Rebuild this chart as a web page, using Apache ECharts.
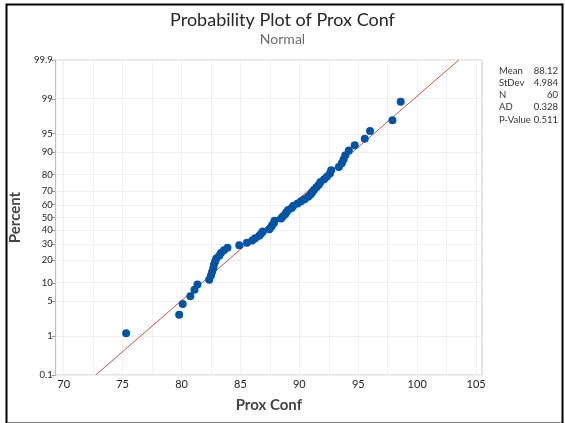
<!DOCTYPE html>
<html>
<head>
<meta charset="utf-8">
<script src="https://cdn.jsdelivr.net/npm/echarts@6/dist/echarts.min.js"></script>
<style>
  html, body { margin: 0; padding: 0; background: #fff; }
  #chart { width: 565px; height: 423px; }
</style>
</head>
<body>
<div id="chart"></div>
<script>
// Prox Conf observations, sorted ascending (N = 60)
const proxConf = [
  75.3, 79.8, 80.1, 80.75, 81.1, 81.35, 82.35, 82.5, 82.6, 82.7,
  82.75, 82.85, 82.95, 83.2, 83.35, 83.6, 83.9, 84.9, 85.55, 86.0,
  86.25, 86.6, 86.75, 86.9, 87.45, 87.6, 87.7, 87.85, 87.9, 88.45,
  88.6, 88.8, 88.9, 89.05, 89.35, 89.5, 89.85, 90.15, 90.45, 90.75,
  90.95, 91.1, 91.25, 91.45, 91.65, 91.8, 92.1, 92.35, 92.6, 92.7,
  93.35, 93.6, 93.75, 93.9, 94.2, 94.7, 95.55, 96.0, 97.9, 98.6
];

// Fitted normal distribution
const fitMean = 88.12;
const fitStDev = 4.984;

// Summary table
const statNames = ['Mean', 'StDev', 'N', 'AD', 'P-Value'];
const statValues = ['88.12', '4.984', '60', '0.328', '0.511'];

// Axis ticks
const percentTicks = [0.1, 1, 5, 10, 20, 30, 40, 50, 60, 70, 80, 90, 95, 99, 99.9];
const xTicks = [70, 75, 80, 85, 90, 95, 100, 105];
const xGrid = [70, 72.5, 75, 77.5, 80, 82.5, 85, 87.5, 90, 92.5, 95, 97.5, 100, 102.5, 105];

// Inverse standard normal CDF (Acklam's rational approximation)
function normInv(p) {
  const a = [-3.969683028665376e+01, 2.209460984245205e+02, -2.759285104469687e+02, 1.383577518672690e+02, -3.066479806614716e+01, 2.506628277459239e+00];
  const b = [-5.447609879822406e+01, 1.615858368580409e+02, -1.556989798598866e+02, 6.680131188771972e+01, -1.328068155288572e+01];
  const c = [-7.784894002430293e-03, -3.223964580411365e-01, -2.400758277161838e+00, -2.549671010229583e+00, 4.374664141464968e+00, 2.938163982698783e+00];
  const d = [7.784695709041462e-03, 3.224671290700398e-01, 2.445134137142996e+00, 3.754408661907416e+00];
  const pl = 0.02425, ph = 1 - pl;
  let q, r;
  if (p < pl) {
    q = Math.sqrt(-2 * Math.log(p));
    return (((((c[0]*q+c[1])*q+c[2])*q+c[3])*q+c[4])*q+c[5]) / ((((d[0]*q+d[1])*q+d[2])*q+d[3])*q+1);
  }
  if (p <= ph) {
    q = p - 0.5; r = q * q;
    return (((((a[0]*r+a[1])*r+a[2])*r+a[3])*r+a[4])*r+a[5])*q / (((((b[0]*r+b[1])*r+b[2])*r+b[3])*r+b[4])*r+1);
  }
  q = Math.sqrt(-2 * Math.log(1 - p));
  return -(((((c[0]*q+c[1])*q+c[2])*q+c[3])*q+c[4])*q+c[5]) / ((((d[0]*q+d[1])*q+d[2])*q+d[3])*q+1);
}

// The percent scale is drawn as a linear axis in normal-score units
const tickZ = percentTicks.map(p => normInv(p / 100));
const zMin = tickZ[0], zMax = tickZ[tickZ.length - 1];

function percentLabel(v) {
  let best = 0;
  tickZ.forEach((z, i) => { if (Math.abs(z - v) < Math.abs(tickZ[best] - v)) best = i; });
  return String(percentTicks[best]);
}

// Median-rank plotting positions, (i - 0.3) / (n + 0.4)
const n = proxConf.length;
const points = proxConf.map((x, i) => [x, normInv((i + 1 - 0.3) / (n + 0.4))]);

// Fitted line across the full percent range
const fitLine = [
  [fitMean + zMin * fitStDev, zMin],
  [fitMean + zMax * fitStDev, zMax]
];

const gridColor = '#efefef';
const gridLines = xGrid.map(v => ({ xAxis: v })).concat(tickZ.map(z => ({ yAxis: z })));

const FONT = "Lato, 'Open Sans', sans-serif";

const chart = echarts.init(document.getElementById('chart'), null, { renderer: 'canvas' });

const statGraphics = [];
statNames.forEach((name, i) => {
  const y = 71.5 + i * 12.3;
  statGraphics.push({
    type: 'text', left: 499, top: y - 6,
    style: { text: name, fill: '#333', font: '9.5px ' + FONT, textVerticalAlign: 'top' }
  });
  statGraphics.push({
    type: 'text', right: 7, top: y - 6,
    style: { text: statValues[i], fill: '#333', font: '9.5px ' + FONT, textAlign: 'right', textVerticalAlign: 'top' }
  });
});

chart.setOption({
  animation: false,
  backgroundColor: '#fff',
  title: {
    text: 'Probability Plot of Prox Conf',
    subtext: 'Normal',
    left: 'center',
    top: 6,
    itemGap: 3,
    textStyle: { fontFamily: FONT, fontSize: 18, fontWeight: 'normal', color: '#262626' },
    subtextStyle: { fontFamily: FONT, fontSize: 14, color: '#6a6a6a' }
  },
  grid: {
    left: 53, right: 83, top: 60, bottom: 48,
    show: true, borderColor: '#c8c8c8', borderWidth: 1, backgroundColor: '#fff'
  },
  xAxis: {
    type: 'value',
    min: 69.32, max: 105.5,
    name: 'Prox Conf',
    nameLocation: 'middle',
    nameGap: 23,
    nameTextStyle: { fontFamily: FONT, fontSize: 15, fontWeight: 'bold', color: '#444' },
    axisLine: { show: true, lineStyle: { color: '#bdbdbd' } },
    axisTick: { show: true, length: 4, customValues: xTicks, lineStyle: { color: '#999' } },
    axisLabel: { customValues: xTicks, margin: 4, fontFamily: FONT, fontSize: 11, color: '#222' },
    splitLine: { show: false }
  },
  yAxis: {
    type: 'value',
    min: zMin, max: zMax,
    name: 'Percent',
    nameLocation: 'middle',
    nameGap: 28,
    nameTextStyle: { fontFamily: FONT, fontSize: 15, fontWeight: 'bold', color: '#444' },
    axisLine: { show: true, lineStyle: { color: '#bdbdbd' } },
    axisTick: { show: true, length: 4, customValues: tickZ, lineStyle: { color: '#999' } },
    axisLabel: { customValues: tickZ, margin: 3, fontFamily: FONT, fontSize: 9.5, color: '#222', formatter: percentLabel },
    splitLine: { show: false }
  },
  graphic: [
    {
      type: 'rect', left: 4, top: 2, silent: true, z: 100,
      shape: { width: 556, height: 419 },
      style: { fill: 'none', stroke: '#000', lineWidth: 2 }
    }
  ].concat(statGraphics),
  series: [
    {
      type: 'line',
      data: fitLine,
      symbol: 'none',
      silent: true,
      z: 3,
      lineStyle: { color: '#c0504d', width: 1 },
      markLine: {
        silent: true,
        symbol: 'none',
        label: { show: false },
        lineStyle: { color: gridColor, width: 1, type: 'solid' },
        z: 1,
        data: gridLines
      }
    },
    {
      type: 'scatter',
      data: points,
      symbol: 'circle',
      symbolSize: 8,
      z: 4,
      itemStyle: { color: '#0054a6', opacity: 1 }
    }
  ]
});
</script>
</body>
</html>
